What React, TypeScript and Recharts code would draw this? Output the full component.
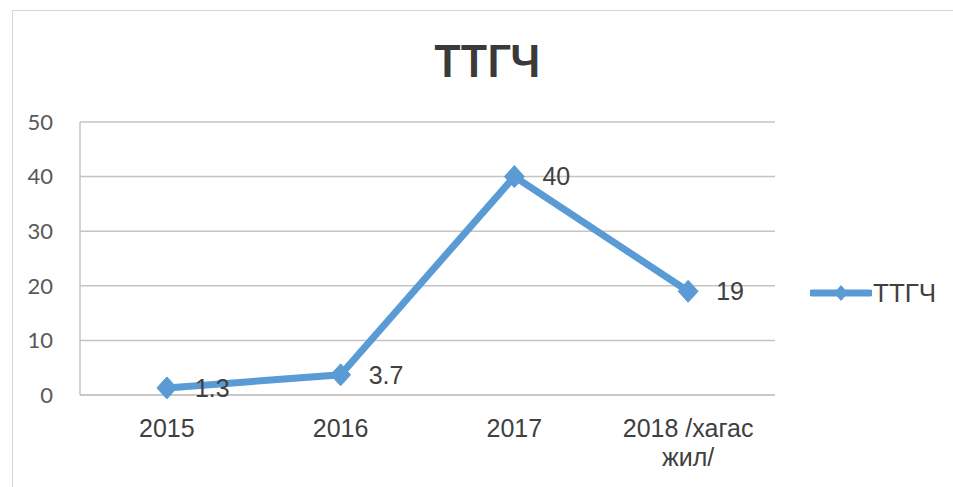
import React from 'react';
import { LineChart, Line, XAxis, YAxis, CartesianGrid, LabelList, Legend } from 'recharts';

const categories = ['2015', '2016', '2017', '2018 /хагас жил/'];
const values = [1.3, 3.7, 40, 19];
const yTicks = [0, 10, 20, 30, 40, 50];
const seriesName = 'ТТГЧ';
const chartTitle = 'ТТГЧ';

const data = categories.map((c, i) => ({ year: c, value: values[i] }));

const BLUE = '#5b9bd5';
const TEXT = '#404040';
const GRID = '#c4c4c4';

const XTick = (props: any) => {
  const { x, y, payload } = props;
  const text = String(payload.value);
  const idx = text.lastIndexOf(' ');
  const lines = text.length > 10 && idx > 0 ? [text.slice(0, idx), text.slice(idx + 1)] : [text];
  return (
    <text x={x} y={y} textAnchor="middle" fill={TEXT} fontSize={25} fontFamily="'Liberation Sans', Arial, sans-serif">
      {lines.map((l, i) => (
        <tspan key={i} x={x} dy={i === 0 ? '0.71em' : 29}>{l}</tspan>
      ))}
    </text>
  );
};

const Diamond = (props: any) => {
  const { cx, cy } = props;
  if (cx == null || cy == null) return null;
  const w = 10, h = 11;
  return (
    <polygon
      points={`${cx},${cy - h} ${cx + w},${cy} ${cx},${cy + h} ${cx - w},${cy}`}
      fill={BLUE}
      stroke={BLUE}
      strokeWidth={1}
    />
  );
};

const LegendContent = () => (
  <div style={{ display: 'flex', alignItems: 'center', height: 30 }}>
    <svg width={62} height={30}>
      <line x1={2} y1={15} x2={60} y2={15} stroke={BLUE} strokeWidth={7} strokeLinecap="round" />
      <polygon points="31,7 38,15 31,23 24,15" fill={BLUE} />
    </svg>
    <span style={{ fontFamily: "'Liberation Sans', Arial, sans-serif", fontSize: 26, color: TEXT, marginLeft: 1, lineHeight: '30px' }}>
      {seriesName}
    </span>
  </div>
);

export default function App() {
  return (
    <div style={{ position: 'absolute', left: 0, top: 0, width: 953, height: 487, background: '#ffffff', overflow: 'hidden' }}>
      <div style={{ position: 'absolute', left: 12, top: 10, width: 960, height: 500, border: '1.5px solid #d6d6d6', boxSizing: 'border-box' }} />
      <div
        style={{
          position: 'absolute',
          left: 0,
          top: 38,
          width: 975,
          textAlign: 'center',
          fontFamily: 'Lato, sans-serif',
          fontWeight: 700,
          fontSize: 44,
          lineHeight: '44px',
          color: '#3a3a3a',
        }}
      >
        {chartTitle}
      </div>
      <div style={{ position: 'absolute', left: 0, top: 0 }}>
        <LineChart width={953} height={487} data={data} margin={{ top: 122, right: 178, bottom: 0, left: 0 }}>
          <CartesianGrid vertical={false} stroke={GRID} strokeWidth={1.5} />
          <XAxis
            dataKey="year"
            scale="band"
            height={62}
            tickLine={false}
            tickSize={6}
            tickMargin={18}
            axisLine={{ stroke: GRID, strokeWidth: 1.5 }}
            tick={<XTick />}
            interval={0}
          />
          <YAxis
            width={80}
            domain={[0, 50]}
            ticks={yTicks}
            tickLine={false}
            tickSize={6}
            tickMargin={21}
            axisLine={{ stroke: GRID, strokeWidth: 1.5 }}
            tick={{ fill: '#595959', fontSize: 22, fontFamily: 'Lato, sans-serif' }}
          />
          <Legend
            content={<LegendContent />}
            wrapperStyle={{ position: 'absolute', left: 810, top: 278, width: 143, height: 30 }}
          />
          <Line
            type="linear"
            dataKey="value"
            name={seriesName}
            stroke={BLUE}
            strokeWidth={7}
            dot={<Diamond />}
            activeDot={false}
            isAnimationActive={false}
          >
            <LabelList
              dataKey="value"
              position="right"
              offset={28}
              fill={TEXT}
              fontSize={25}
              fontFamily="'Liberation Sans', Arial, sans-serif"
            />
          </Line>
        </LineChart>
      </div>
    </div>
  );
}
